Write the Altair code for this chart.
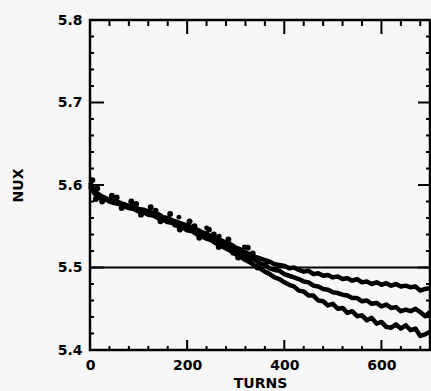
import altair as alt
import pandas as pd

# ---- data ----
turns = list(range(0, 701, 10))

run_a = [5.603, 5.592, 5.588, 5.584, 5.582, 5.580, 5.579, 5.576, 5.575, 5.574,
         5.571, 5.570, 5.568, 5.566, 5.565, 5.561, 5.560, 5.557, 5.555, 5.553,
         5.551, 5.549, 5.546, 5.543, 5.541, 5.538, 5.536, 5.533, 5.530, 5.528,
         5.524, 5.522, 5.518, 5.516, 5.513, 5.511, 5.509, 5.507, 5.504, 5.503,
         5.502, 5.499, 5.500, 5.497, 5.495, 5.496, 5.492, 5.493, 5.490, 5.491,
         5.488, 5.489, 5.486, 5.487, 5.484, 5.486, 5.482, 5.483, 5.480, 5.482,
         5.479, 5.481, 5.478, 5.480, 5.477, 5.478, 5.476, 5.477, 5.472, 5.474,
         5.475]

run_b = [5.600, 5.590, 5.586, 5.585, 5.581, 5.581, 5.577, 5.577, 5.573, 5.573,
         5.570, 5.568, 5.567, 5.564, 5.563, 5.560, 5.558, 5.556, 5.553, 5.552,
         5.549, 5.547, 5.544, 5.542, 5.539, 5.536, 5.533, 5.531, 5.527, 5.525,
         5.521, 5.518, 5.515, 5.511, 5.509, 5.505, 5.503, 5.499, 5.497, 5.496,
         5.492, 5.490, 5.488, 5.486, 5.483, 5.482, 5.478, 5.477, 5.474, 5.473,
         5.470, 5.469, 5.467, 5.466, 5.463, 5.463, 5.459, 5.460, 5.456, 5.457,
         5.453, 5.455, 5.451, 5.452, 5.447, 5.449, 5.447, 5.450, 5.446, 5.441,
         5.446]

run_c = [5.598, 5.589, 5.584, 5.583, 5.580, 5.578, 5.577, 5.574, 5.572, 5.571,
         5.568, 5.567, 5.564, 5.563, 5.560, 5.558, 5.555, 5.554, 5.550, 5.549,
         5.545, 5.544, 5.540, 5.538, 5.535, 5.533, 5.529, 5.526, 5.523, 5.520,
         5.516, 5.513, 5.509, 5.506, 5.502, 5.499, 5.495, 5.492, 5.488, 5.486,
         5.482, 5.479, 5.477, 5.472, 5.471, 5.466, 5.466, 5.460, 5.459, 5.454,
         5.456, 5.450, 5.451, 5.445, 5.447, 5.441, 5.442, 5.436, 5.439, 5.432,
         5.434, 5.428, 5.427, 5.431, 5.426, 5.430, 5.424, 5.426, 5.417, 5.419,
         5.422]

# scattered points forming the thick early band
cloud_turns = [5, 15, 25, 45, 65, 85, 105, 125, 145, 165, 185, 205, 225, 245,
               265, 285, 305, 325, 345, 365, 12, 55, 95, 135, 175, 215, 255,
               295, 335]
cloud_nux = [5.606, 5.596, 5.580, 5.587, 5.572, 5.580, 5.564, 5.573, 5.556,
             5.565, 5.546, 5.556, 5.536, 5.546, 5.525, 5.534, 5.512, 5.524,
             5.500, 5.507, 5.583, 5.585, 5.577, 5.569, 5.552, 5.550, 5.540,
             5.518, 5.517]

stray_turns = [183, 266, 318, 240]
stray_nux = [5.561, 5.538, 5.525, 5.548]

reference_nux = [5.5]

x_major = [0, 200, 400, 600]
y_major = [5.4, 5.5, 5.6, 5.7, 5.8]
x_minor = [t for t in range(40, 700, 40) if t % 200 != 0]
y_minor = [round(5.4 + 0.02 * i, 2) for i in range(1, 20) if i % 5 != 0]

# ---- tables ----
rows = []
for name, vals in (("A", run_a), ("B", run_b), ("C", run_c)):
    for t, v in zip(turns, vals):
        rows.append({"turns": t, "nux": v, "run": name})
df = pd.DataFrame(rows)
cloud = pd.DataFrame({"turns": cloud_turns, "nux": cloud_nux})
stray = pd.DataFrame({"turns": stray_turns, "nux": stray_nux})
ref = pd.DataFrame({"nux": reference_nux})
xmaj = pd.DataFrame({"t": x_major})
xmin = pd.DataFrame({"t": x_minor})
ymaj = pd.DataFrame({"v": y_major})
ymin = pd.DataFrame({"v": y_minor})

W, H = 340, 330
FONT = "DejaVu Sans"

xscale = alt.Scale(domain=[0, 700], nice=False, zero=False)
yscale = alt.Scale(domain=[5.4, 5.8], nice=False, zero=False)

xaxis = alt.Axis(values=x_major, ticks=False, domain=False, grid=False,
                 labelFont=FONT, labelFontSize=14, labelFontWeight="bold",
                 labelColor="black", labelPadding=8, labelFlush=False,
                 title="TURNS", titleFont=FONT, titleFontSize=14,
                 titleFontWeight="bold", titleColor="black",
                 titleY=37, titleBaseline="alphabetic")
yaxis = alt.Axis(values=y_major, format=".1f", ticks=False, domain=False,
                 grid=False, labelFont=FONT, labelFontSize=14,
                 labelFontWeight="bold", labelColor="black", labelPadding=8,
                 labelFlush=False,
                 title="NUX", titleFont=FONT, titleFontSize=14,
                 titleFontWeight="bold", titleColor="black", titleAngle=270,
                 titleX=-72, titleY=H / 2, titleAlign="center",
                 titleBaseline="middle")

lines = alt.Chart(df).mark_line(color="black", strokeWidth=4.5,
                                strokeJoin="round").encode(
    x=alt.X("turns:Q", scale=xscale, axis=xaxis),
    y=alt.Y("nux:Q", scale=yscale, axis=yaxis),
    detail="run:N",
)

dots = alt.Chart(cloud).mark_circle(color="black", size=34, opacity=1).encode(
    x=alt.X("turns:Q", scale=xscale),
    y=alt.Y("nux:Q", scale=yscale),
)

strays = alt.Chart(stray).mark_circle(color="black", size=24, opacity=1).encode(
    x=alt.X("turns:Q", scale=xscale),
    y=alt.Y("nux:Q", scale=yscale),
)

hline = alt.Chart(ref).mark_rule(color="black", strokeWidth=2).encode(
    y=alt.Y("nux:Q", scale=yscale),
)

def xticks(data, y0, y1):
    return alt.Chart(data).mark_rule(color="black", strokeWidth=2).encode(
        x=alt.X("t:Q", scale=xscale), y=alt.value(y0), y2=alt.value(y1))

def yticks(data, x0, x1):
    return alt.Chart(data).mark_rule(color="black", strokeWidth=2).encode(
        y=alt.Y("v:Q", scale=yscale), x=alt.value(x0), x2=alt.value(x1))

ticks = [
    xticks(xmin, H, H - 4), xticks(xmaj, H, H - 10),
    xticks(xmin, 0, 6), xticks(xmaj, 0, 14),
    yticks(ymin, 0, 4), yticks(ymaj, 0, 14),
    yticks(ymin, W, W - 4), yticks(ymaj, W, W - 12),
]

chart = alt.layer(hline, lines, dots, strays, *ticks).properties(
    width=W, height=H,
    padding={"left": 90, "top": 20, "right": 1, "bottom": 41},
    autosize=alt.AutoSizeParams(type="none"),
    background="#f7f7f7",
).configure_view(stroke="black", strokeWidth=2.5)

chart.save("out.html", embed_options={"renderer": "svg", "actions": False})
